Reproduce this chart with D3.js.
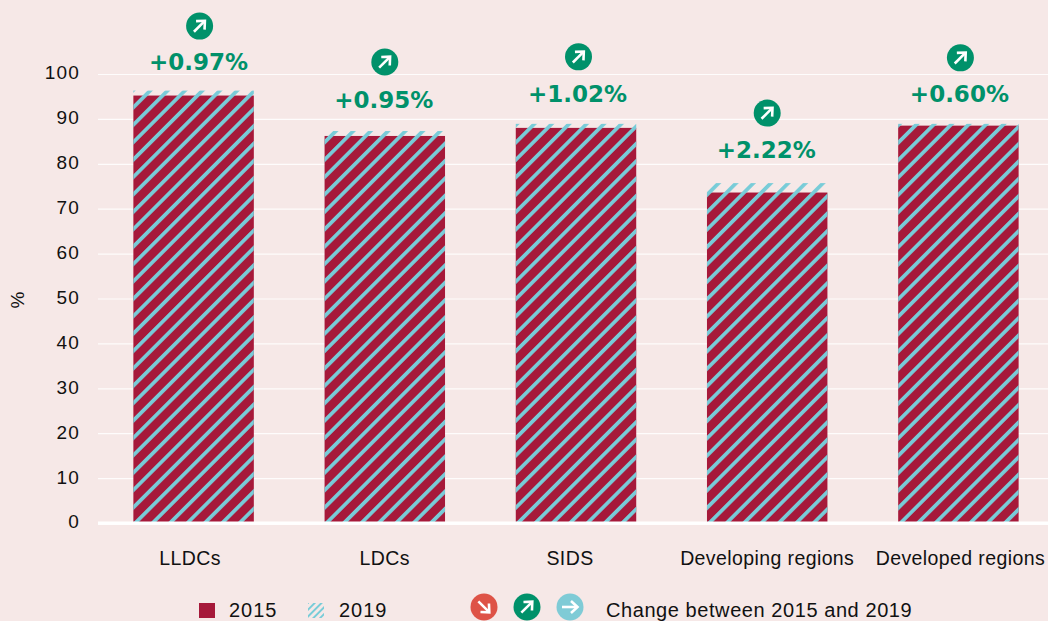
<!DOCTYPE html>
<html>
<head>
<meta charset="utf-8">
<script src="https://cdnjs.cloudflare.com/ajax/libs/d3/7.8.5/d3.min.js"></script>
<style>
  html, body { margin: 0; padding: 0; background: #f6e8e7; overflow: hidden; }
  text { font-family: "Liberation Sans", sans-serif; fill: #111; }
</style>
</head>
<body>
<div id="chart"></div>
<script>
const categories = ['LLDCs', 'LDCs', 'SIDS', 'Developing regions', 'Developed regions'];
const values2015 = [95.2, 86.2, 88.0, 73.6, 88.5];
const values2019 = [96.3, 87.3, 88.9, 75.7, 88.9];
const changeLabels = ['+0.97%', '+0.95%', '+1.02%', '+2.22%', '+0.60%'];
const yTicks = [0, 10, 20, 30, 40, 50, 60, 70, 80, 90, 100];
const legendChanges = ['down', 'up', 'flat'];

const width = 1048;
const height = 621;

const crimson = '#a6193a';
const teal = '#78ccd8';
const changeColor = { down: '#de5347', up: '#00916a', flat: '#7fcbd6' };
const arrowAngle = { down: 45, up: -45, flat: 0 };

// hand nudges so labels sit where the original has them
const iconDx = [6, 0, 2.5, 0, 2];
const iconDy = [-64.5, -69, -67, -70, -66];
const labelDy = [-21, -23.5, -21.5, -25.5, -21.5];
const categoryDx = [-3.5, 0, -6, 0, 2];

const x = d3.scaleBand()
  .domain(categories)
  .range([98, 1054])
  .paddingInner(0.37)
  .paddingOuter(0.185);

const y = d3.scaleLinear()
  .domain([0, 100])
  .range([523, 74]);

const svg = d3.select('#chart').append('svg')
  .attr('width', width)
  .attr('height', height)
  .style('display', 'block');

const defs = svg.append('defs');

function addHatch(id, size, stripe, tx) {
  defs.append('pattern')
    .attr('id', id)
    .attr('patternUnits', 'userSpaceOnUse')
    .attr('width', size)
    .attr('height', size)
    .attr('patternTransform', `translate(${tx},0) rotate(45)`)
    .append('rect')
      .attr('width', stripe)
      .attr('height', size)
      .attr('fill', teal);
}
addHatch('hatch', 12.3, 3.7, 12);
addHatch('hatch-small', 4.8, 1.9, 0);

// grid + y axis
const yAxis = d3.axisLeft(y)
  .tickValues(yTicks)
  .tickSize(0)
  .tickPadding(18);

const axisG = svg.append('g')
  .attr('transform', 'translate(98,0)')
  .call(yAxis);

axisG.select('.domain').remove();
axisG.selectAll('text')
  .attr('dy', '0.26em')
  .attr('font-size', 19)
  .attr('letter-spacing', 1.2)
  .style('font-family', '"Liberation Sans", sans-serif')
  .attr('fill', '#111');
axisG.selectAll('.tick line')
  .attr('x2', width - 98)
  .attr('stroke', '#fff')
  .attr('stroke-opacity', 0.85)
  .attr('stroke-width', d => d === 0 ? 3 : 1.2);

svg.append('text')
  .attr('transform', 'translate(24,300) rotate(-90)')
  .attr('text-anchor', 'middle')
  .attr('font-size', 19)
  .text('%');

// bars
svg.append('g').selectAll('rect')
  .data(categories)
  .enter()
  .append('rect')
    .attr('x', d => x(d))
    .attr('y', (d, i) => y(values2015[i]))
    .attr('width', x.bandwidth())
    .attr('height', (d, i) => y(0) - y(values2015[i]))
    .attr('fill', crimson);

svg.append('g').selectAll('rect')
  .data(categories)
  .enter()
  .append('rect')
    .attr('x', d => x(d))
    .attr('y', (d, i) => y(values2019[i]))
    .attr('width', x.bandwidth())
    .attr('height', (d, i) => y(0) - y(values2019[i]))
    .attr('fill', 'url(#hatch)');

// re-draw the zero line above the bars
svg.append('line')
  .attr('x1', 98)
  .attr('x2', width)
  .attr('y1', y(0))
  .attr('y2', y(0))
  .attr('stroke', '#fff')
  .attr('stroke-width', 3);

function drawChangeIcon(parent, cx, cy, kind) {
  const g = parent.append('g')
    .attr('transform', `translate(${cx},${cy})`);
  g.append('circle')
    .attr('r', 13.5)
    .attr('fill', changeColor[kind]);
  const a = g.append('g')
    .attr('transform', `rotate(${arrowAngle[kind]})`)
    .attr('fill', 'none')
    .attr('stroke', '#fff')
    .attr('stroke-width', 2.6);
  a.append('path').attr('d', 'M-8,0H7');
  a.append('path').attr('d', 'M1,-6L7.5,0L1,6');
}

categories.forEach((c, i) => {
  const cx = x(c) + x.bandwidth() / 2;
  const top = y(values2019[i]);
  drawChangeIcon(svg, cx + iconDx[i], top + iconDy[i], 'up');
  svg.append('text')
    .attr('x', cx + iconDx[i] - 1)
    .attr('y', top + labelDy[i])
    .attr('text-anchor', 'middle')
    .style('font-family', '"DejaVu Sans", sans-serif')
    .style('font-weight', 700)
    .style('fill', changeColor.up)
    .attr('font-size', 23)
    .text(changeLabels[i]);
  svg.append('text')
    .attr('x', cx + categoryDx[i])
    .attr('y', 565)
    .attr('text-anchor', 'middle')
    .attr('font-size', 19.5)
    .attr('letter-spacing', 0.4)
    .text(c);
});

// legend
const legend = svg.append('g').attr('font-size', 20);
legend.append('rect')
  .attr('x', 199).attr('y', 603).attr('width', 16).attr('height', 15)
  .attr('fill', crimson);
legend.append('text').attr('x', 229).attr('y', 617).attr('letter-spacing', 1).text('2015');
legend.append('rect')
  .attr('x', 308).attr('y', 603).attr('width', 16).attr('height', 15)
  .attr('fill', 'url(#hatch-small)');
legend.append('text').attr('x', 339).attr('y', 617).attr('letter-spacing', 1).text('2019');
legendChanges.forEach((k, i) => drawChangeIcon(legend, 484 + i * 43, 607, k));
legend.append('text').attr('x', 606).attr('y', 617).attr('letter-spacing', 0.57).text('Change between 2015 and 2019');
</script>
</body>
</html>
